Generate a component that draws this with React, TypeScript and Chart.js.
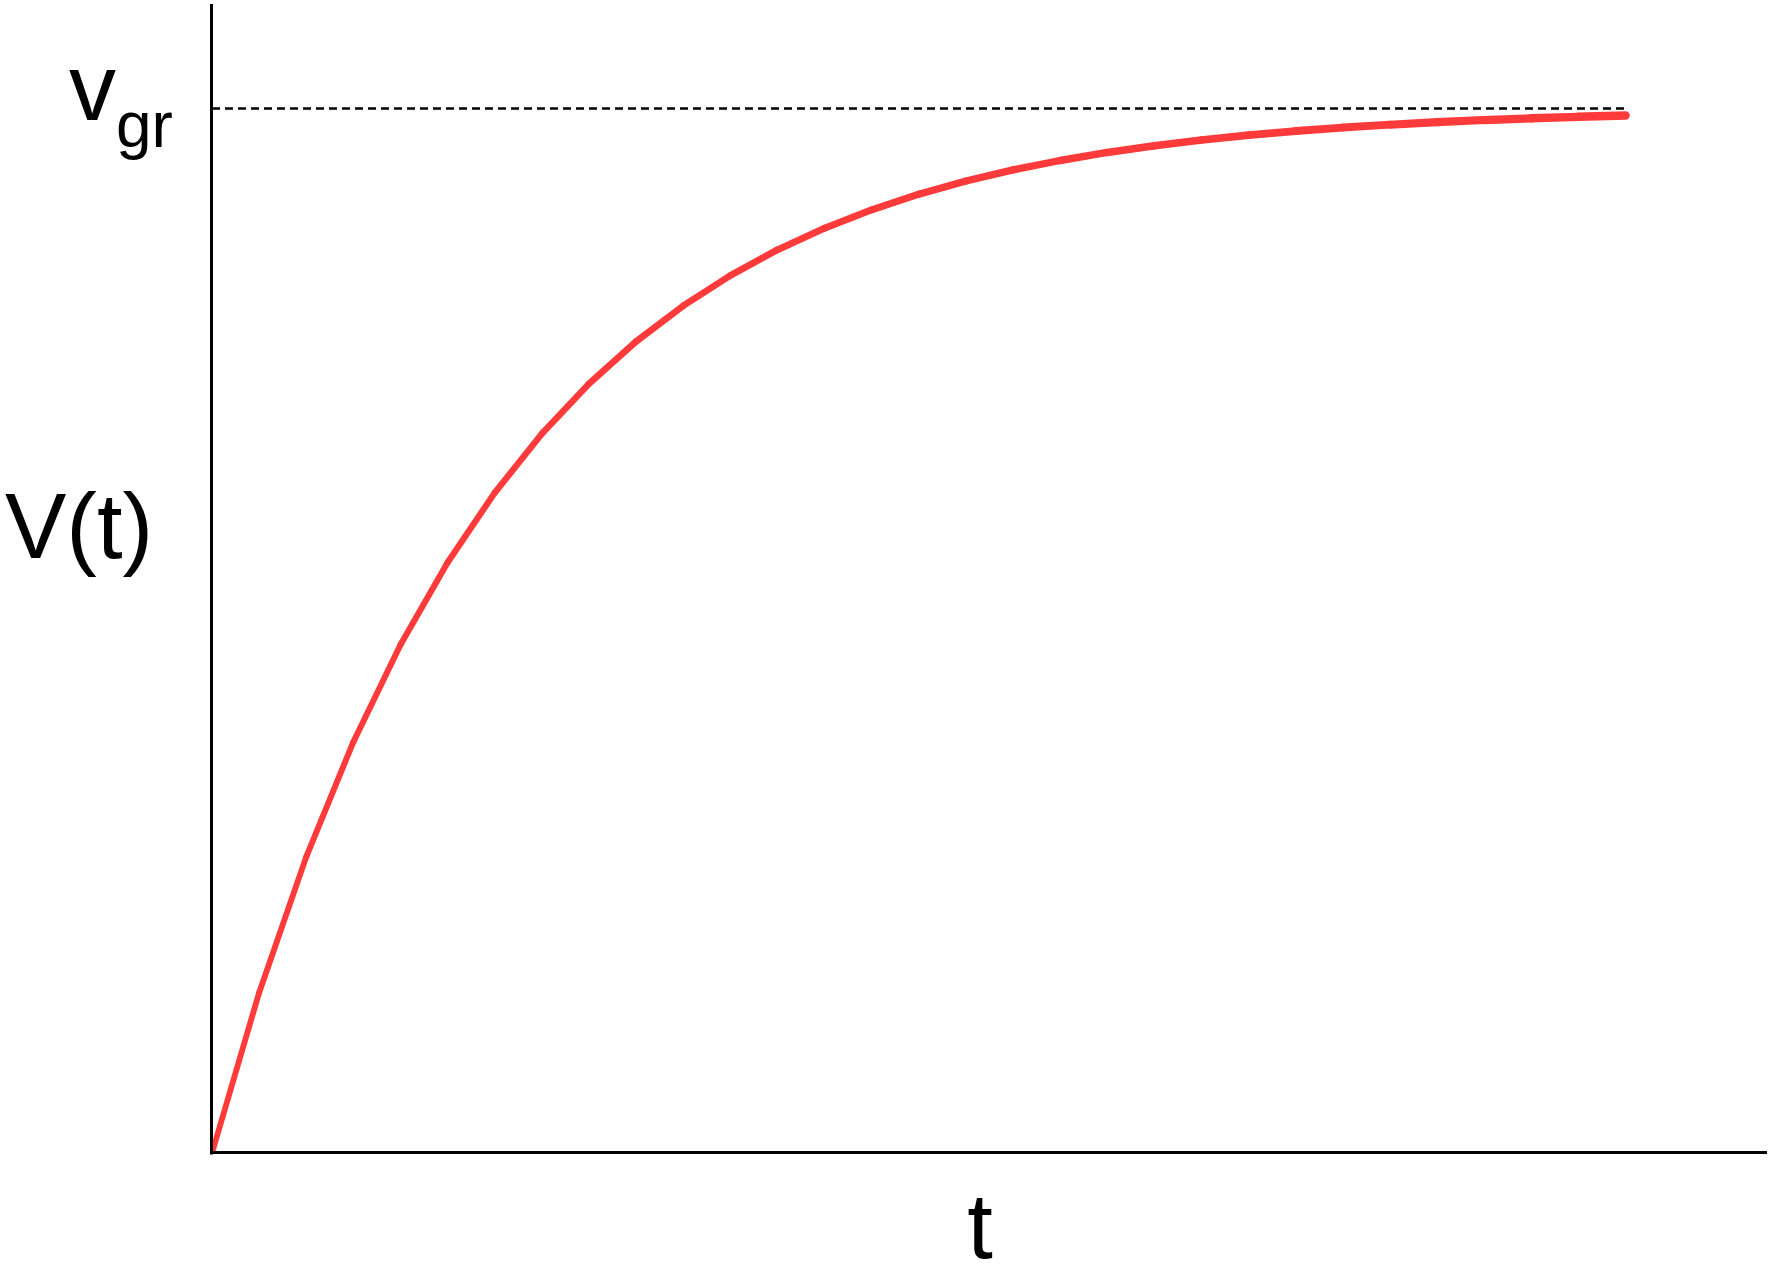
import React, { useEffect, useRef } from "react";
import { Chart, registerables } from "chart.js";

Chart.register(...registerables);

// time steps (arbitrary units)
const tValues = [0, 1, 2, 3, 4, 5, 6, 7, 8, 9, 10, 11, 12, 13, 14, 15, 16, 17, 18, 19, 20, 21, 22, 23, 24, 25, 26, 27, 28, 29, 30];
// velocity V(t) relative to terminal velocity v_gr
const vValues = [0, 0.1535, 0.2835, 0.3935, 0.4866, 0.5654, 0.6321, 0.6886, 0.7364, 0.7769, 0.8111, 0.8401, 0.8647, 0.8854, 0.903, 0.9179, 0.9305, 0.9412, 0.9502, 0.9579, 0.9643, 0.9698, 0.9744, 0.9784, 0.9817, 0.9845, 0.9869, 0.9889, 0.9906, 0.992, 0.9933];
// terminal velocity line
const vgrT = [0, 30];
const vgrValue = [1, 1];

const xMax = 33;
const yMax = 1.1;

const FONT = '"Liberation Sans", Arial, sans-serif';

const axesAndLabels = {
  id: "axesAndLabels",
  afterDatasetsDraw(chart: any) {
    const { ctx, scales } = chart;
    const xs = scales.x;
    const ys = scales.y;
    const x0 = xs.getPixelForValue(0);
    const y0 = ys.getPixelForValue(0);
    const yTop = ys.getPixelForValue(yMax);
    const xRight = xs.getPixelForValue(xMax);
    ctx.save();
    ctx.strokeStyle = "#000";
    ctx.lineWidth = 3;
    ctx.beginPath();
    ctx.moveTo(x0 - 0.5, yTop);
    ctx.lineTo(x0 - 0.5, y0 + 1.5);
    ctx.moveTo(x0 - 2, y0 - 0.5);
    ctx.lineTo(xRight, y0 - 0.5);
    ctx.stroke();

    ctx.fillStyle = "#000";
    ctx.textBaseline = "alphabetic";
    // y-axis label V(t)
    ctx.textAlign = "left";
    ctx.font = `92px ${FONT}`;
    ctx.fillText("V(t)", 5, ys.getPixelForValue(0.57));
    // v_gr label
    const yGr = ys.getPixelForValue(1);
    ctx.font = `94px ${FONT}`;
    ctx.fillText("v", 69, yGr + 12);
    ctx.font = `64px ${FONT}`;
    ctx.fillText("gr", 116, yGr + 39);
    // x-axis label t
    ctx.textAlign = "center";
    ctx.font = `92px ${FONT}`;
    ctx.fillText("t", xs.getPixelForValue(16.3), y0 + 105);
    ctx.restore();
  },
};

export default function App() {
  const ref = useRef<HTMLCanvasElement | null>(null);
  useEffect(() => {
    if (!ref.current) return;
    const n = tValues.length - 1;
    const chart = new Chart(ref.current, {
      type: "line",
      data: {
        datasets: [
          {
            label: "V(t)",
            data: tValues.map((t, i) => ({ x: t, y: vValues[i] })),
            borderColor: "#ff3a3a",
            borderWidth: 6,
            segment: {
              borderWidth: (c: any) => 5.8 + (2.6 * c.p0DataIndex) / (n - 1),
            },
            pointRadius: 0,
            tension: 0,
            fill: false,
            borderCapStyle: "round",
            borderJoinStyle: "round",
            order: 1,
          },
          {
            label: "v_gr",
            data: vgrT.map((t, i) => ({ x: t, y: vgrValue[i] })),
            borderColor: "#000",
            borderWidth: 2.6,
            borderDash: [8, 5],
            pointRadius: 0,
            tension: 0,
            fill: false,
            order: 2,
          },
        ],
      },
      options: {
        animation: false,
        responsive: false,
        layout: { padding: { left: 212, right: 4, top: 4, bottom: 130 } },
        plugins: { legend: { display: false }, tooltip: { enabled: false } },
        scales: {
          x: { type: "linear", min: 0, max: xMax, display: false },
          y: { type: "linear", min: 0, max: yMax, display: false },
        },
      },
      plugins: [axesAndLabels],
    });
    return () => chart.destroy();
  }, []);
  return (
    <div style={{ position: "absolute", left: 0, top: 0, width: 1771, height: 1283, background: "#fff" }}>
      <canvas ref={ref} width={1771} height={1283} style={{ display: "block" }} />
    </div>
  );
}
